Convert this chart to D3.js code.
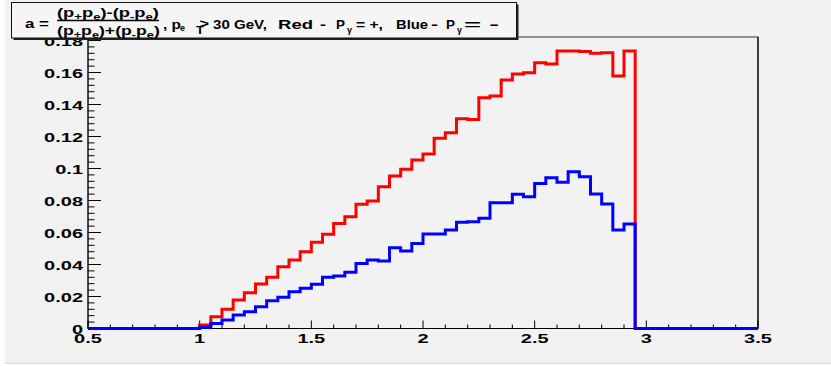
<!DOCTYPE html>
<html>
<head>
<meta charset="utf-8">
<script src="https://cdn.jsdelivr.net/npm/d3@7"></script>
<style>
  html, body { margin: 0; padding: 0; background: #ffffff; }
  svg { display: block; }
  text { font-family: "Liberation Sans", Arial, Helvetica, sans-serif; font-weight: bold; fill: #000; }
</style>
</head>
<body>
<svg id="chart" width="831" height="366"></svg>
<script>
// Histogram range and binning (60 bins of width 0.05)
const xRange = [0.5, 3.5];
const binWidth = 0.05;
const xTickLabels = ["0.5", "1", "1.5", "2", "2.5", "3", "3.5"];
const yTickLabels = ["0", "0.02", "0.04", "0.06", "0.08", "0.1", "0.12", "0.14", "0.16", "0.18"];
const yMax = 0.1822;

// Asymmetry per bin, P_gamma = + (red)
const redValues = [
  0, 0, 0, 0, 0, 0, 0, 0, 0, 0,
  0.0022, 0.0074, 0.0120, 0.0178, 0.0224, 0.0278, 0.0320, 0.0386, 0.0428, 0.0480,
  0.0539, 0.0589, 0.0657, 0.0699, 0.0776, 0.0797, 0.0886, 0.0953, 0.0995, 0.1053,
  0.1090, 0.1189, 0.1224, 0.1311, 0.1307, 0.1443, 0.1453, 0.1553, 0.1590, 0.1599,
  0.1661, 0.1653, 0.1734, 0.1734, 0.1732, 0.1720, 0.1724, 0.1578, 0.1734, 0,
  0, 0, 0, 0, 0, 0, 0, 0, 0, 0
];

// Asymmetry per bin, P_gamma = - (blue)
const blueValues = [
  0, 0, 0, 0, 0, 0, 0, 0, 0, 0,
  0.0008, 0.0032, 0.0053, 0.0084, 0.0105, 0.0136, 0.0174, 0.0195, 0.0230, 0.0251,
  0.0276, 0.0320, 0.0328, 0.0351, 0.0407, 0.0428, 0.0422, 0.0505, 0.0484, 0.0532,
  0.0591, 0.0591, 0.0616, 0.0664, 0.0668, 0.0689, 0.0786, 0.0786, 0.0839, 0.0824,
  0.0907, 0.0943, 0.0914, 0.0980, 0.0949, 0.0841, 0.0778, 0.0616, 0.0653, 0,
  0, 0, 0, 0, 0, 0, 0, 0, 0, 0
];

const svg = d3.select("#chart");

// Canvas background
svg.append("rect").attr("x", 5).attr("y", 0).attr("width", 826).attr("height", 363).attr("fill", "#f2f2f2");
svg.append("line").attr("x1", 5).attr("x2", 831).attr("y1", 363.5).attr("y2", 363.5).attr("stroke", "#d8d8d8");

const frame = { left: 88, right: 758, top: 37, bottom: 328.5 };
const x = d3.scaleLinear().domain(xRange).range([frame.left, frame.right]);
const y = d3.scaleLinear().domain([0, yMax]).range([frame.bottom, frame.top]);

// Frame
svg.append("rect")
  .attr("x", frame.left).attr("y", frame.top)
  .attr("width", frame.right - frame.left).attr("height", frame.bottom - frame.top)
  .attr("fill", "#f2f2f2").attr("stroke", "#333").attr("stroke-width", 1);
svg.append("line").attr("x1", frame.right).attr("x2", frame.right)
  .attr("y1", frame.top).attr("y2", frame.bottom).attr("stroke", "#222").attr("stroke-width", 1.5);

const labelScaleX = 1.48;

// X axis ticks (inside, pointing up)
const xMinor = d3.range(5, 36).map(v => v / 10);
svg.append("g").selectAll("line").data(xMinor).join("line")
  .attr("x1", d => x(d)).attr("x2", d => x(d))
  .attr("y1", frame.bottom)
  .attr("y2", (d, i) => frame.bottom - (i % 5 === 0 ? 8 : 4))
  .attr("stroke", "#000").attr("stroke-width", 1);
svg.append("g").selectAll("text").data(xTickLabels).join("text")
  .attr("transform", d => `translate(${x(+d)},343) scale(${labelScaleX},1)`)
  .attr("text-anchor", "middle")
  .attr("font-size", 13.5)
  .text(d => d);

// Y axis ticks (inside, pointing right)
const yMinor = d3.range(0, 46).map(v => v * 0.004);
svg.append("g").selectAll("line").data(yMinor).join("line")
  .attr("x1", frame.left)
  .attr("x2", (d, i) => frame.left + (i % 5 === 0 ? 13 : 6.5))
  .attr("y1", d => y(d)).attr("y2", d => y(d))
  .attr("stroke", "#000").attr("stroke-width", 1);
svg.append("g").selectAll("text").data(yTickLabels).join("text")
  .attr("transform", d => `translate(83,${y(+d) + 5}) scale(${labelScaleX},1)`)
  .attr("text-anchor", "end")
  .attr("font-size", 13.5)
  .text(d => d);

// Axis lines
svg.append("line").attr("x1", frame.left).attr("x2", frame.right)
  .attr("y1", frame.bottom).attr("y2", frame.bottom).attr("stroke", "#000");
svg.append("line").attr("x1", frame.left).attr("x2", frame.left)
  .attr("y1", frame.top).attr("y2", frame.bottom).attr("stroke", "#000");

// Histogram outlines as step lines
const binStarts = d3.range(redValues.length).map(i => xRange[0] + i * binWidth);
const stepLine = d3.line().x(d => x(d[0])).y(d => y(d[1])).curve(d3.curveStepAfter);
function histPoints(values) {
  const pts = values.map((v, i) => [binStarts[i], v]);
  pts.push([xRange[1], values[values.length - 1]]);
  return pts;
}
svg.append("path").attr("d", stepLine(histPoints(redValues)))
  .attr("fill", "none").attr("stroke", "#ff0000").attr("stroke-width", 3);
svg.append("path").attr("d", stepLine(histPoints(blueValues)))
  .attr("fill", "none").attr("stroke", "#0000ff").attr("stroke-width", 3);

// Title box with shadow
const tb = { x: 11.5, y: 2.5, w: 505, h: 35.5 };
svg.append("rect").attr("x", tb.x + 2).attr("y", tb.y + 2).attr("width", tb.w).attr("height", tb.h).attr("fill", "#222");
svg.append("rect").attr("x", tb.x).attr("y", tb.y).attr("width", tb.w).attr("height", tb.h)
  .attr("fill", "#f5f5f5").attr("stroke", "#111").attr("stroke-width", 1);

// Title pieces: each is stretched to span [x0, x1]
function piece(segments, x0, x1, baseline, size) {
  const t = svg.append("text").attr("font-size", size).attr("x", 0).attr("y", 0);
  segments.forEach(s => {
    const ts = t.append("tspan").text(s.t);
    if (s.sub) ts.attr("font-size", size * 0.72).attr("dy", 3);
    else if (s.back) ts.attr("dy", -3);
  });
  const w = t.node().getComputedTextLength();
  t.attr("transform", `translate(${x0},${baseline}) scale(${(x1 - x0) / w},1)`);
  return t;
}
const fs = 13;
piece([{ t: "a =" }], 25, 49, 28, fs);
const fracNum = [
  { t: "(p" }, { t: "+", sub: true }, { t: "p", back: true }, { t: "e", sub: true },
  { t: ")-(p", back: true }, { t: "-", sub: true }, { t: "p", back: true }, { t: "e", sub: true }, { t: ")", back: true }
];
const fracDen = [
  { t: "(p" }, { t: "+", sub: true }, { t: "p", back: true }, { t: "e", sub: true },
  { t: ")+(p", back: true }, { t: "-", sub: true }, { t: "p", back: true }, { t: "e", sub: true }, { t: ")", back: true }
];
piece(fracNum, 57, 159, 16.5, fs);
piece(fracDen, 57, 160, 34.5, fs);
svg.append("line").attr("x1", 57).attr("x2", 159).attr("y1", 20.5).attr("y2", 20.5)
  .attr("stroke", "#000").attr("stroke-width", 1.3);
piece([{ t: ", p" }], 163, 181, 28.5, fs);
piece([{ t: "e" }], 180, 185, 31, fs * 0.72);
piece([{ t: "T" }], 196, 204, 34, 10);
piece([{ t: ">" }], 199.5, 209, 28, fs);
piece([{ t: "30 GeV," }], 213, 267, 28.5, fs);
piece([{ t: "Red" }], 278, 313, 28.5, fs);
piece([{ t: "-" }], 320, 326, 28.5, fs);
piece([{ t: "P" }], 336, 345, 28.5, fs);
piece([{ t: "γ" }], 347, 352, 32.5, 9);
piece([{ t: "= +," }], 356, 383, 28.5, fs);
piece([{ t: "Blue" }], 396, 428, 28.5, fs);
piece([{ t: "-" }], 431, 438, 28.5, fs);
piece([{ t: "P" }], 446, 455, 28.5, fs);
piece([{ t: "γ" }], 457, 462, 32.5, 9);
piece([{ t: "= -" }], 464, 499, 28.5, fs);
</script>
</body>
</html>
